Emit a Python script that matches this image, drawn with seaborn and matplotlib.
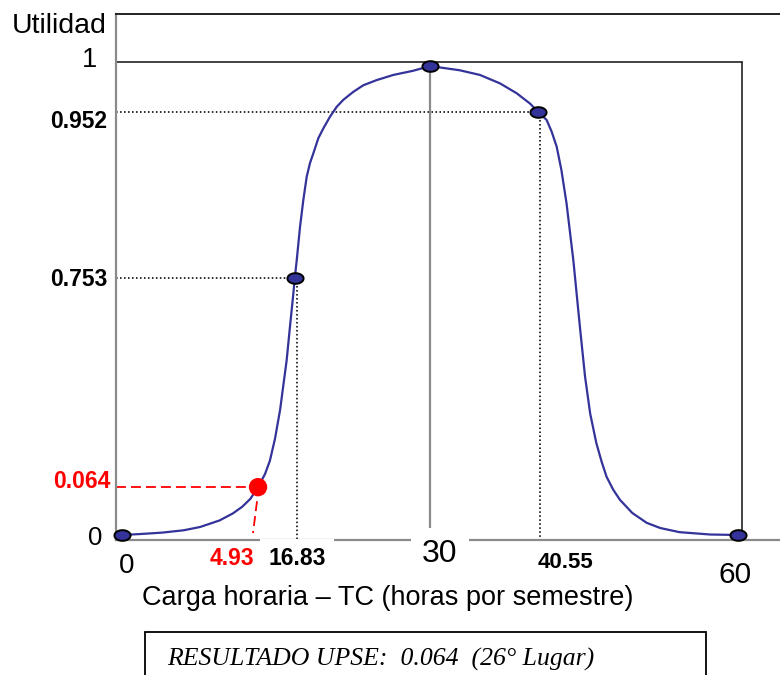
import numpy as np
import matplotlib
matplotlib.use("Agg")
import matplotlib.pyplot as plt
import seaborn as sns
from matplotlib.path import Path
from matplotlib.patches import Rectangle

# ---------------- data ----------------
curve_x = [0, 1.75, 3.9, 6.0, 7.6, 9.5, 10.8, 11.7, 12.5, 13.25, 13.93, 14.4, 14.9, 15.4, 16.04,
           16.36, 16.69, 16.83, 17.02, 17.34, 17.66, 17.99, 18.31, 18.64, 19.12, 19.61, 20.26,
           20.91, 21.56, 22.53, 23.5, 24.8, 26.42, 28.37, 30.0, 32.9, 34.87, 36.82, 38.44,
           39.74, 40.55, 41.36, 41.85, 42.34, 42.8, 43.3, 43.96, 44.6, 45.1, 45.6, 46.2,
           46.72, 47.2, 47.86, 48.5, 49.7, 51.1, 52.4, 54.3, 57.3, 60]
curve_y = [0, 0.002, 0.005, 0.010, 0.017, 0.031, 0.046, 0.060, 0.077, 0.102, 0.130, 0.158, 0.205,
           0.267, 0.373, 0.444, 0.515, 0.548, 0.586, 0.657, 0.714, 0.764, 0.793, 0.814, 0.846,
           0.867, 0.892, 0.913, 0.928, 0.945, 0.959, 0.970, 0.981, 0.990, 1.0, 0.991, 0.981,
           0.963, 0.942, 0.920, 0.902, 0.885, 0.860, 0.828, 0.778, 0.707, 0.586, 0.444, 0.338,
           0.259, 0.196, 0.156, 0.124, 0.096, 0.075, 0.047, 0.026, 0.015, 0.006, 0.001, 0]

point_x = [0, 16.83, 30, 40.55, 60]
point_y = [0, 0.548, 1.0, 0.902, 0]

result_x = 13.25
result_y = 0.102
result_foot_x = 12.76

y_labels = ["1", "0.952", "0.753", "0.064", "0"]
x_labels = ["0", "4.93", "16.83", "30", "40.55", "60"]
y_title = "Utilidad"
x_title = "Carga horaria \u2013 TC (horas por semestre)"
box_text = "RESULTADO UPSE:  0.064  (26\u00b0 Lugar)"

# ---------------- style ----------------
W, H = 780, 675
sns.set_theme(style="white")
plt.rcParams["font.family"] = ["Liberation Sans", "DejaVu Sans"]
plt.rcParams["text.color"] = "black"

BLUE = "#333399"
GRAY = "#8a8a8a"

fig = plt.figure(figsize=(W / 100, H / 100), dpi=100)
ax = fig.add_axes([116 / W, 1 - 540 / H, 664 / W, 526 / H])
XMIN, XMAX = -0.584, 64.09
YMIN, YMAX = -0.0107, 1.111
ax.set_xlim(XMIN, XMAX)
ax.set_ylim(YMIN, YMAX)
ax.set_xticks([])
ax.set_yticks([])

for s in ["left", "bottom"]:
    ax.spines[s].set_color(GRAY)
    ax.spines[s].set_linewidth(1.6)
ax.spines["top"].set_color("#222222")
ax.spines["top"].set_linewidth(1.4)
ax.spines["right"].set_visible(False)

# inner frame
FR_X, FR_Y = 60.39, 1.0085
ax.plot([XMIN, FR_X], [FR_Y, FR_Y], color="#222222", lw=1.2, zorder=1)
ax.plot([FR_X, FR_X], [YMIN, FR_Y], color="#222222", lw=1.2, zorder=1)

# dotted guides
dot = dict(color="black", lw=1.15, linestyle=(0, (1, 1.5)), zorder=2)
ax.plot([XMIN, point_x[3]], [point_y[3], point_y[3]], **dot)
ax.plot([point_x[3] + 0.2, point_x[3] + 0.2], [point_y[3], YMIN], **dot)
ax.plot([XMIN, point_x[1]], [point_y[1], point_y[1]], **dot)
ax.plot([point_x[1] + 0.25, point_x[1] + 0.25], [point_y[1], YMIN], **dot)
# gray line at the maximum
ax.plot([point_x[2], point_x[2]], [point_y[2], YMIN], color=GRAY, lw=1.6, zorder=2)

# red guides
rd = dict(color="red", lw=1.3, linestyle=(0, (5.5, 2.8)), zorder=2)
ax.plot([XMIN, result_x], [result_y, result_y], **rd)
ax.plot([result_x - 0.1, result_foot_x], [result_y - 0.03, 0.004], **rd)

# curve
sns.lineplot(x=curve_x, y=curve_y, ax=ax, color=BLUE, lw=1.6, sort=False,
             estimator=None, zorder=3)

# ellipse markers
t = np.linspace(0, 2 * np.pi, 64)
ellipse = Path(np.column_stack([np.cos(t), 0.66 * np.sin(t)]), closed=True)
sns.scatterplot(x=point_x, y=point_y, ax=ax, marker=ellipse, s=135, color=BLUE,
                edgecolor="black", linewidth=1.4, zorder=5, clip_on=False)
sns.scatterplot(x=[result_x], y=[result_y], ax=ax, marker="o", s=175, color="red",
                edgecolor="none", zorder=6, clip_on=False)


# ---------------- text ----------------
def ftxt(px, py, s, **kw):
    fig.text(px / W, 1 - py / H, s, **kw)


ftxt(107, 33, y_title, ha="right", va="baseline", fontsize=20.5)
ftxt(97, 67, y_labels[0], ha="right", va="baseline", fontsize=19.5)
ftxt(107, 128, y_labels[1], ha="right", va="baseline", fontsize=16.5, fontweight="bold")
ftxt(107, 286, y_labels[2], ha="right", va="baseline", fontsize=16.5, fontweight="bold")
ftxt(110, 488, y_labels[3], ha="right", va="baseline", fontsize=16.5, fontweight="bold",
     color="red")
ftxt(102, 545, y_labels[4], ha="right", va="baseline", fontsize=18.5)

white = dict(facecolor="white", edgecolor="none", boxstyle="square,pad=0.35")
ftxt(127, 573, x_labels[0], ha="center", va="baseline", fontsize=20)
ftxt(231.5, 565, x_labels[1], ha="center", va="baseline", fontsize=16.5,
     fontweight="bold", color="red")
ftxt(297, 565, x_labels[2], ha="center", va="baseline", fontsize=16.5,
     fontweight="bold", bbox=white)
ftxt(440, 562, x_labels[3], ha="center", va="baseline", fontsize=23, bbox=white)
ftxt(565, 568, x_labels[4], ha="center", va="baseline", fontsize=16, fontweight="bold")
ftxt(735, 583, x_labels[5], ha="center", va="baseline", fontsize=21.5)

ftxt(387.5, 605, x_title, ha="center", va="baseline", fontsize=19.5)

fig.patches.append(Rectangle((145 / W, 1 - 700 / H), (706 - 145) / W, (700 - 632) / H,
                             transform=fig.transFigure, facecolor="none",
                             edgecolor="black", lw=1.3))
ftxt(381, 666, box_text, ha="center", va="baseline", fontsize=18.5,
     family=["Liberation Serif", "DejaVu Serif"], style="italic")

fig.savefig("out.png", dpi=100)
